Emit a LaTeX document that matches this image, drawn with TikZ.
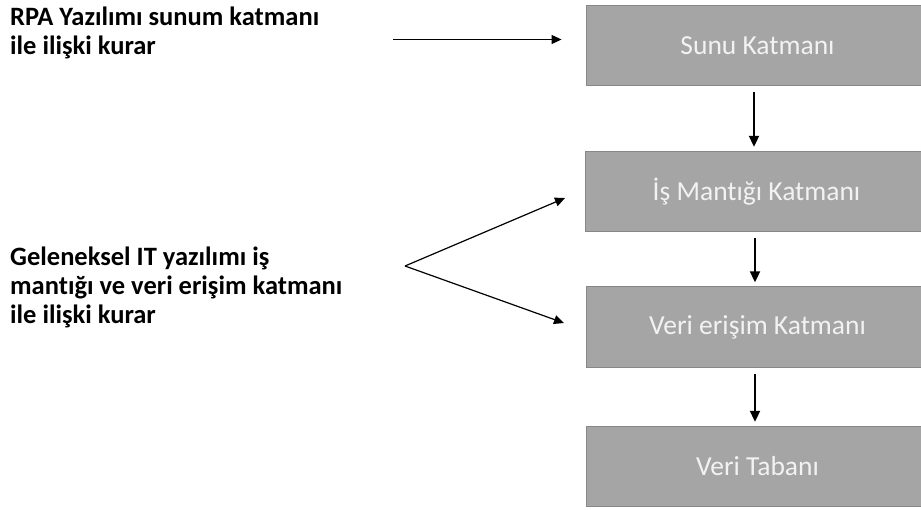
\documentclass[tikz,border=0pt]{standalone}
\usepackage{fontspec}
\setmainfont[Ligatures=NoCommon]{Carlito}
\usetikzlibrary{arrows.meta}
\definecolor{layerfill}{RGB}{165,165,165}
\definecolor{layerline}{RGB}{135,135,135}
\definecolor{layertext}{RGB}{242,242,242}
\begin{document}
\begin{tikzpicture}[x=1pt,y=-1pt,
  layer/.style={rectangle, fill=layerfill, draw=layerline, line width=0.9pt,
    minimum width=343pt, minimum height=80.5pt, inner sep=0pt,
    text=layertext, font=\fontsize{27.5}{31}\selectfont},
  note/.style={anchor=base west, align=left, inner sep=0pt,
    font=\bfseries\fontsize{26.5}{29}\selectfont},
  downarrow/.style={-{Triangle[length=11pt,width=10pt]}, line width=2pt,
    shorten <=6pt, shorten >=4pt},
  thinarrow/.style={-{Triangle[length=10pt,width=9pt]}, line width=1.2pt}]
  \useasboundingbox (0,0) rectangle (921,509);
  \clip (0,0) rectangle (921,509);

  % layered architecture stack
  \node[layer] (sunu) at (757.5,45.5)  {Sunu Katmanı};
  \node[layer] (is)   at (756.5,191.5) {İş Mantığı Katmanı};
  \node[layer] (veri) at (757.5,327)   {Veri erişim Katmanı};
  \node[layer] (db)   at (757.5,466.5) {Veri Tabanı};

  \draw[downarrow] (sunu.south -| 754,0) -- (is.north -| 754,0);
  \draw[downarrow] (is.south -| 755,0) -- (veri.north -| 755,0);
  \draw[downarrow] (veri.south -| 755,0) -- (db.north -| 755,0);

  % descriptions on the left (anchored at the baseline of the last line)
  \node[note] (rpa) at (10,54) {RPA Yazılımı sunum katmanı\\ile ilişki kurar};
  \node[note] (it) at (10,323) {Geleneksel IT yazılımı iş\\mantığı ve veri erişim katmanı\\ile ilişki kurar};

  \coordinate (rpaStart) at (393,39.5);
  \draw[thinarrow, shorten >=24pt] (rpaStart) -- (sunu.west |- rpaStart);

  \coordinate (fork) at (405,266);
  \coordinate (toIs) at (565,198);
  \coordinate (toVeri) at (564,323);
  \draw[thinarrow] (fork) -- (toIs);
  \draw[thinarrow] (fork) -- (toVeri);
\end{tikzpicture}
\end{document}
